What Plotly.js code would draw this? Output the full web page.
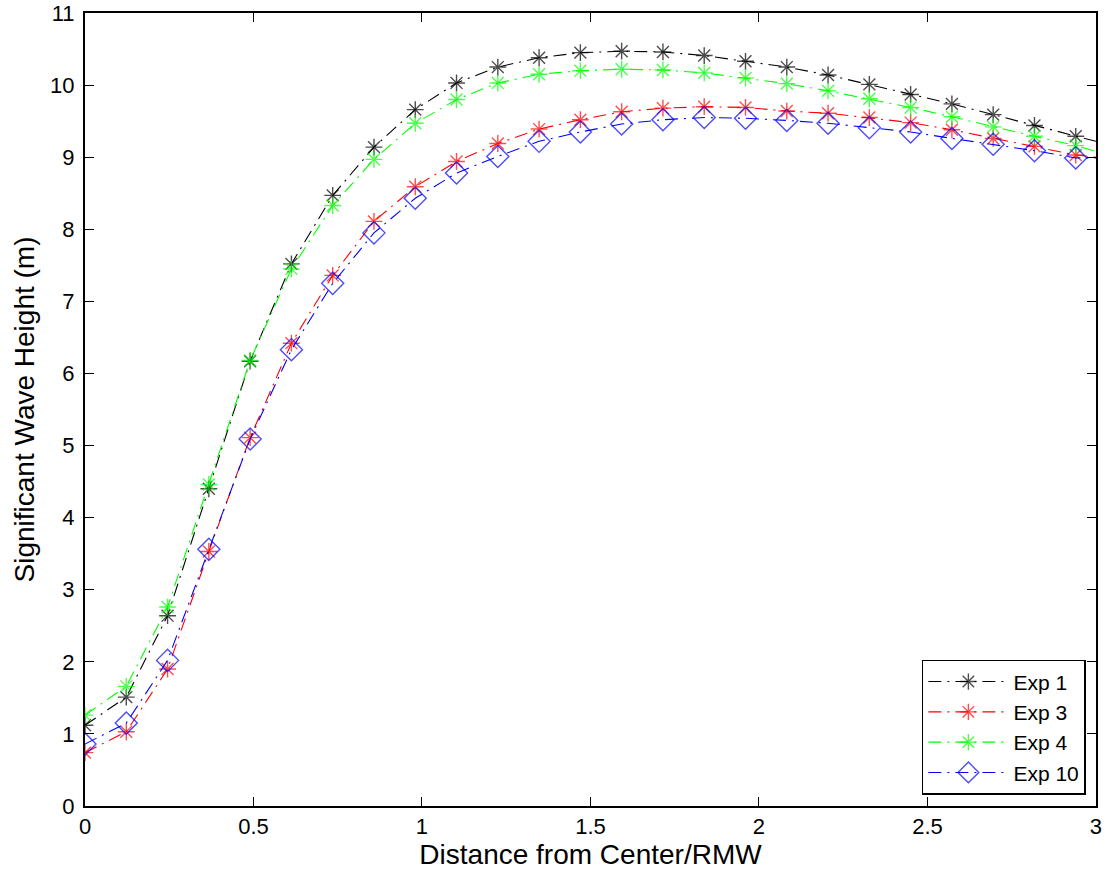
<!DOCTYPE html>
<html>
<head>
<meta charset="utf-8">
<script src="https://cdn.plot.ly/plotly-3.0.1.min.js"></script>
<style>html,body{margin:0;padding:0;background:#fff;}#chart{width:1112px;height:878px;}</style>
</head>
<body>
<div id="chart"></div>
<script>
// Distance from Center / RMW (last point is line end only, no marker)
const xDist = [0, 0.1225, 0.245, 0.3675, 0.49, 0.6125, 0.735, 0.8575, 0.98, 1.1025, 1.225, 1.3475, 1.47, 1.5925, 1.715, 1.8375, 1.96, 2.0825, 2.205, 2.3275, 2.45, 2.5725, 2.695, 2.8175, 2.94, 3.0];

const exp1  = [1.12, 1.51, 2.64, 4.40, 6.17, 7.52, 8.47, 9.14, 9.66, 10.03, 10.25, 10.38, 10.45, 10.47, 10.46, 10.41, 10.33, 10.25, 10.14, 10.01, 9.87, 9.74, 9.59, 9.44, 9.29, 9.22];
const exp3  = [0.74, 1.03, 1.90, 3.53, 5.11, 6.42, 7.36, 8.11, 8.59, 8.94, 9.19, 9.39, 9.52, 9.63, 9.68, 9.70, 9.69, 9.64, 9.61, 9.55, 9.48, 9.38, 9.26, 9.15, 9.03, 9.00];
const exp4  = [1.26, 1.66, 2.76, 4.46, 6.18, 7.45, 8.33, 8.97, 9.47, 9.80, 10.03, 10.15, 10.20, 10.22, 10.21, 10.17, 10.10, 10.02, 9.92, 9.81, 9.69, 9.56, 9.42, 9.29, 9.16, 9.08];
const exp10 = [0.86, 1.15, 2.02, 3.56, 5.09, 6.33, 7.25, 7.95, 8.43, 8.78, 9.01, 9.22, 9.35, 9.46, 9.52, 9.55, 9.54, 9.51, 9.47, 9.41, 9.35, 9.26, 9.18, 9.09, 8.99, 8.99];

const names = ['Exp 1', 'Exp 3', 'Exp 4', 'Exp 10'];
const colors = ['#000000', '#ff0000', '#00ff00', '#0000ff'];
const symbols = ['asterisk-open', 'asterisk-open', 'asterisk-open', 'diamond-open'];
const series = [exp1, exp3, exp4, exp10];

const traces = series.map((ys, k) => {
  const sz = xDist.map((v, i) => (i === xDist.length - 1 ? 0 : (symbols[k] === 'diamond-open' ? 17 : 14)));
  return {
    x: xDist, y: ys, name: names[k], type: 'scatter', mode: 'lines+markers',
    line: {color: colors[k], width: 1.1, dash: '13px,6px,2px,6px'},
    marker: {symbol: symbols[k], size: sz, color: colors[k], line: {color: colors[k], width: 1.4}}
  };
});

const fontFam = 'Liberation Sans, Arial, Helvetica, sans-serif';
const layout = {
  width: 1112, height: 878,
  margin: {l: 85, r: 16, t: 13, b: 72},
  paper_bgcolor: '#fff', plot_bgcolor: '#fff',
  font: {family: fontFam, size: 20, color: '#000'},
  showlegend: true,
  legend: {
    x: 0.990, y: 0.014, xanchor: 'right', yanchor: 'bottom',
    bordercolor: '#000', borderwidth: 1.5, bgcolor: '#fff',
    font: {family: fontFam, size: 21, color: '#000'},
    tracegroupgap: 0, itemwidth: 80
  },
  xaxis: {
    range: [0, 3.0001], tickvals: [0, 0.5, 1, 1.5, 2, 2.5, 3], ticktext: ['0', '0.5', '1', '1.5', '2', '2.5', '3'],
    ticks: 'inside', ticklen: 9, tickwidth: 1, tickcolor: '#000',
    showline: true, linecolor: '#000', linewidth: 2, mirror: 'ticks',
    showgrid: false, zeroline: false, ticklabeloverflow: 'allow',
    tickfont: {family: fontFam, size: 22, color: '#000'},
    title: {text: 'Distance from Center/RMW', font: {family: fontFam, size: 28, color: '#000'}, standoff: 5}
  },
  yaxis: {
    range: [0, 11.0001], tickvals: [0,1,2,3,4,5,6,7,8,9,10,11], ticktext: ['0','1','2','3','4','5','6','7','8','9','10','11'],
    ticks: 'inside', ticklen: 9, tickwidth: 1, tickcolor: '#000',
    showline: true, linecolor: '#000', linewidth: 2, mirror: 'ticks',
    showgrid: false, zeroline: false, ticklabeloverflow: 'allow', ticklabelstandoff: 4,
    tickfont: {family: fontFam, size: 22, color: '#000'},
    title: {text: 'Significant Wave Height (m)', font: {family: fontFam, size: 28, color: '#000'}, standoff: 7}
  }
};

Plotly.newPlot('chart', traces, layout, {displayModeBar: false, staticPlot: true});
</script>
</body>
</html>
